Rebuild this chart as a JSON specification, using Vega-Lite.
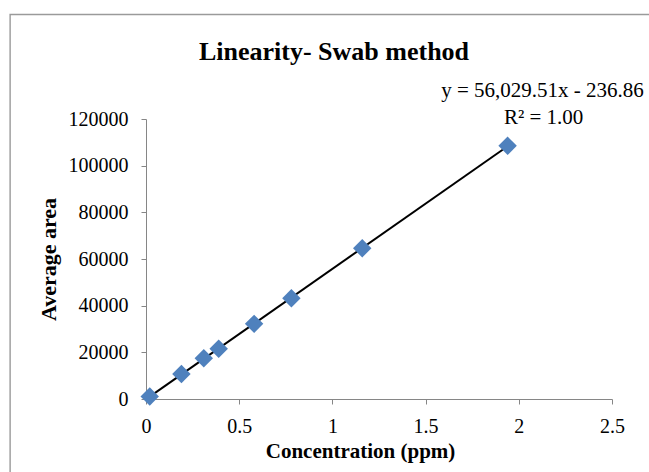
{
  "$schema": "https://vega.github.io/schema/vega-lite/v6.json",
  "width": 466,
  "height": 280,
  "autosize": {"type": "none"},
  "padding": {"left": 146, "top": 119, "right": 37, "bottom": 73},
  "background": "white",
  "config": {"view": {"stroke": null}, "font": "Liberation Serif"},
  "title": {
    "text": "Linearity- Swab method",
    "font": "Liberation Serif",
    "fontSize": 26,
    "fontWeight": "bold",
    "color": "black",
    "anchor": "middle",
    "frame": "group",
    "baseline": "alphabetic",
    "offset": -72,
    "dx": -45
  },
  "layer": [
    {
      "data": {"values": [{}]},
      "mark": {"type": "rect", "fill": null, "fillOpacity": 0, "stroke": "#9a9a9a", "strokeWidth": 1.4, "clip": false},
      "encoding": {
        "x": {"datum": -0.729, "type": "quantitative"},
        "x2": {"datum": 3.0},
        "y": {"datum": 164800, "type": "quantitative"},
        "y2": {"datum": -40000}
      }
    },
    {
      "data": {"name": "pts", "values": [
        {"conc": 0.02, "area": 1100},
        {"conc": 0.19, "area": 10700},
        {"conc": 0.31, "area": 17500},
        {"conc": 0.39, "area": 21500},
        {"conc": 0.58, "area": 32200},
        {"conc": 0.78, "area": 43200},
        {"conc": 1.16, "area": 64600},
        {"conc": 1.94, "area": 108500}
      ]},
      "layer": [
        {
          "transform": [{"regression": "area", "on": "conc", "method": "linear"}],
          "mark": {"type": "line", "color": "black", "strokeWidth": 2},
          "encoding": {
            "x": {"field": "conc", "type": "quantitative"},
            "y": {"field": "area", "type": "quantitative"}
          }
        },
        {
          "mark": {"type": "point", "shape": "diamond", "filled": true, "color": "#4F81BD", "opacity": 1, "size": 340},
          "encoding": {
            "x": {
              "field": "conc",
              "type": "quantitative",
              "scale": {"domain": [0, 2.5], "nice": false, "zero": false},
              "axis": {
                "title": "Concentration (ppm)",
                "values": [0, 0.5, 1, 1.5, 2, 2.5],
                "format": "~g",
                "grid": false,
                "domainColor": "#868686",
                "tickColor": "#868686",
                "tickSize": 5,
                "labelFont": "Liberation Serif",
                "labelFontSize": 20,
                "labelColor": "black",
                "labelPadding": 12,
                "labelFlush": false,
                "titleFont": "Liberation Serif",
                "titleFontSize": 21,
                "titleFontWeight": "bold",
                "titleColor": "black",
                "titlePadding": 4,
                "titleX": 214
              }
            },
            "y": {
              "field": "area",
              "type": "quantitative",
              "scale": {"domain": [0, 120000], "nice": false},
              "axis": {
                "title": "Average area",
                "values": [0, 20000, 40000, 60000, 80000, 100000, 120000],
                "format": "d",
                "grid": false,
                "domainColor": "#868686",
                "tickColor": "#868686",
                "tickSize": 5,
                "labelFont": "Liberation Serif",
                "labelFontSize": 20,
                "labelColor": "black",
                "labelPadding": 13,
                "titleFont": "Liberation Serif",
                "titleFontSize": 22,
                "titleFontWeight": "bold",
                "titleColor": "black",
                "titlePadding": 8
              }
            }
          }
        }
      ]
    },
    {
      "data": {"values": [{}]},
      "mark": {"type": "text", "text": "y = 56,029.51x - 236.86", "font": "Liberation Serif", "fontSize": 21, "fontWeight": "normal", "color": "black", "align": "center", "baseline": "alphabetic", "clip": false},
      "encoding": {
        "x": {"datum": 2.1275, "type": "quantitative"},
        "y": {"datum": 129557, "type": "quantitative"}
      }
    },
    {
      "data": {"values": [{}]},
      "mark": {"type": "text", "text": "R² = 1.00", "font": "Liberation Serif", "fontSize": 21, "fontWeight": "normal", "color": "black", "align": "center", "baseline": "alphabetic", "clip": false},
      "encoding": {
        "x": {"datum": 2.133, "type": "quantitative"},
        "y": {"datum": 117729, "type": "quantitative"}
      }
    }
  ]
}
